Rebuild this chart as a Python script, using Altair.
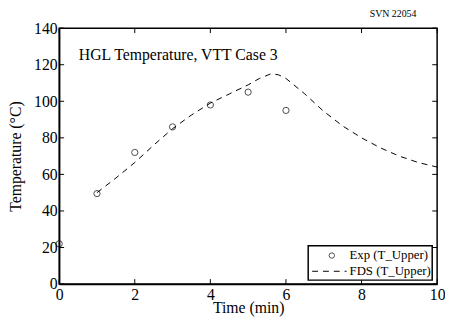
import altair as alt
import pandas as pd

# Experimental data (T_Upper)
exp_time = [0, 1, 2, 3, 4, 5, 6]
exp_temp = [22, 49.5, 72, 86, 98, 105, 95]

# FDS prediction (T_Upper)
fds_time = [1.0, 1.5, 2.0, 2.5, 3.0, 3.5, 4.0, 4.5, 5.0, 5.3, 5.6, 5.8, 6.0, 6.5, 7.0, 7.5, 8.0, 8.5, 9.0, 9.5, 10.0]
fds_temp = [50, 58, 66.5, 76, 85, 92.5, 99, 104, 109, 112.5, 115, 114.5, 112.5, 104, 94.5, 86.5, 80, 74.5, 70, 66.5, 64]

x_ticks = [0, 2, 4, 6, 8, 10]
y_ticks = [0, 20, 40, 60, 80, 100, 120, 140]

legend_labels = ["Exp (T_Upper)", "FDS (T_Upper)"]
title_text = "HGL Temperature, VTT Case 3"
tag_text = "SVN 22054"

W, H = 384, 260
FONT = "Liberation Serif, Times New Roman, Times, serif"

exp_df = pd.DataFrame({"t": exp_time, "T": exp_temp})
fds_df = pd.DataFrame({"t": fds_time, "T": fds_temp})
xt_df = pd.DataFrame({"t": x_ticks})
yt_df = pd.DataFrame({"T": y_ticks})

xs = alt.Scale(domain=[0, 10], nice=False, zero=False)
ys = alt.Scale(domain=[0, 140], nice=False, zero=False)

xaxis = alt.Axis(values=x_ticks, ticks=False, grid=False, labelFont=FONT, labelFontSize=16,
                 labelColor="black", labelPadding=3, title="Time (min)", titleFont=FONT,
                 titleFontSize=16, titleFontWeight="normal", titleColor="black", titlePadding=-3,
                 domainColor="black", domainWidth=1.5, labelFlush=False, labelOverlap=False)
yaxis = alt.Axis(values=y_ticks, ticks=False, grid=False, labelFont=FONT, labelFontSize=16,
                 labelColor="black", labelPadding=2, title="Temperature (°C)", titleFont=FONT,
                 titleFontSize=16, titleFontWeight="normal", titleColor="black", titlePadding=10,
                 domainColor="black", domainWidth=1.5, labelOverlap=False, labelFlush=False)

X = lambda f: alt.X(f, scale=xs, axis=xaxis, title="Time (min)")
Y = lambda f: alt.Y(f, scale=ys, axis=yaxis, title="Temperature (°C)")

base_line = alt.Chart(fds_df).mark_line(color="black", strokeWidth=1, strokeDash=[6, 5]).encode(
    x=X("t:Q"), y=Y("T:Q"),
)

points = alt.Chart(exp_df).mark_point(shape="circle", filled=False, color="black", size=40, strokeWidth=1).encode(
    x=X("t:Q"), y=Y("T:Q"),
)

tick_b = alt.Chart(xt_df).mark_rule(color="black", strokeWidth=1).encode(
    x=X("t:Q"), y=alt.value(H), y2=alt.value(H - 5))
tick_t = alt.Chart(xt_df).mark_rule(color="black", strokeWidth=1).encode(
    x=X("t:Q"), y=alt.value(0), y2=alt.value(5))
tick_l = alt.Chart(yt_df).mark_rule(color="black", strokeWidth=1).encode(
    y=Y("T:Q"), x=alt.value(0), x2=alt.value(5))
tick_r = alt.Chart(yt_df).mark_rule(color="black", strokeWidth=1).encode(
    y=Y("T:Q"), x=alt.value(W), x2=alt.value(W - 5))

title_mark = alt.Chart(pd.DataFrame({"s": [title_text]})).mark_text(
    font=FONT, fontSize=16, align="left", baseline="alphabetic", color="black").encode(
    text="s:N", x=alt.value(20), y=alt.value(32))

# Legend
one = pd.DataFrame({"a": [0]})
leg_box = alt.Chart(one).mark_rect(
    fill="white", stroke="black", strokeWidth=1.5).encode(
    x=alt.value(253), x2=alt.value(379), y=alt.value(221), y2=alt.value(256))
leg_pt = alt.Chart(one).mark_point(
    shape="circle", filled=False, color="black", size=30, strokeWidth=1).encode(
    x=alt.value(277), y=alt.value(231))
leg_ln = alt.Chart(one).mark_rule(
    color="black", strokeWidth=1, strokeDash=[6, 5]).encode(
    x=alt.value(257), x2=alt.value(292), y=alt.value(247))
leg_t1 = alt.Chart(pd.DataFrame({"s": [legend_labels[0]]})).mark_text(
    font=FONT, fontSize=13, align="left", baseline="middle", color="black").encode(
    text="s:N", x=alt.value(295), y=alt.value(231))
leg_t2 = alt.Chart(pd.DataFrame({"s": [legend_labels[1]]})).mark_text(
    font=FONT, fontSize=13, align="left", baseline="middle", color="black").encode(
    text="s:N", x=alt.value(295), y=alt.value(247))

chart = alt.layer(
    base_line, points, tick_b, tick_t, tick_l, tick_r, title_mark,
    leg_box, leg_pt, leg_ln, leg_t1, leg_t2
).properties(
    width=W, height=H,
    title=alt.TitleParams(tag_text, anchor="end", font=FONT, fontSize=10, fontWeight="normal",
                          color="black", dx=-29, offset=1),
    autosize=alt.AutoSizeParams(type="none"),
    padding={"left": 52, "top": 18, "right": 8, "bottom": 33},
).configure_view(stroke="black", strokeWidth=1.5)

chart.save("out.html", embed_options={"renderer": "svg", "actions": False})
